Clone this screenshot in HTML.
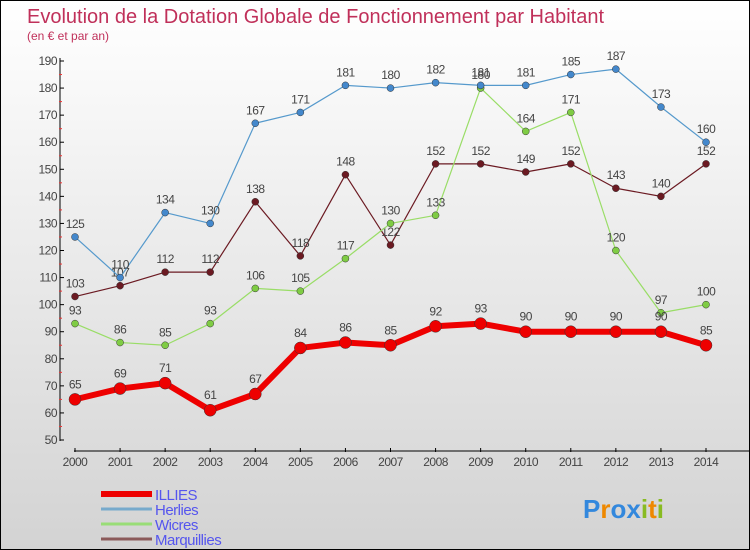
<!DOCTYPE html>
<html><head><meta charset="utf-8"><style>
body{margin:0}
#c{width:748px;height:548px;border:1px solid #000;background:linear-gradient(#fff,#d3d3d3);position:relative;font-family:"Liberation Sans",sans-serif;overflow:hidden}
</style></head><body>
<div id="c">
<svg id="s" width="748" height="548"></svg>
</div>
<script>
const years=[2000,2001,2002,2003,2004,2005,2006,2007,2008,2009,2010,2011,2012,2013,2014];
const illies=[65,69,71,61,67,84,86,85,92,93,90,90,90,90,85];
const herlies=[125,110,134,130,167,171,181,180,182,181,181,185,187,173,160];
const wicres=[93,86,85,93,106,105,117,130,133,180,164,171,120,97,100];
const marq=[103,107,112,112,138,118,148,122,152,152,149,152,143,140,152];
const yTicks=[50,60,70,80,90,100,110,120,130,140,150,160,170,180,190];
const NS="http://www.w3.org/2000/svg";
const s=document.getElementById('s');
const X=i=>74+i*(705-74)/14;
const Y=v=>439-(v-50)*(439-60)/140;
function el(t,a,p){const e=document.createElementNS(NS,t);for(const k in a)e.setAttribute(k,a[k]);(p||s).appendChild(e);return e;}
function txt(x,y,str,a){const e=el('text',Object.assign({x:x,y:y},a));e.textContent=str;return e;}
let t=txt(26,22,'Evolution de la Dotation Globale de Fonctionnement par Habitant',{'font-size':20,fill:'#c0305a'});

t=txt(26,39,'(en € et par an)',{'font-size':12,fill:'#c0305a'});

let ax=el('line',{x1:59,y1:57,x2:59,y2:440,stroke:'#000'});

yTicks.forEach(v=>{el('line',{x1:59,x2:63,y1:Y(v),y2:Y(v),stroke:'#000'});
 if(v<190)el('line',{x1:58,x2:61,y1:Y(v+5),y2:Y(v+5),stroke:'#e33'});
 const l=txt(56,Y(v)+4,v,{'font-size':12,fill:'#444','text-anchor':'end','letter-spacing':'-0.5'});
 });
ax=el('line',{x1:73,y1:450,x2:748,y2:450,stroke:'#000'});

years.forEach((y,i)=>{el('line',{x1:X(i),x2:X(i),y1:447,y2:451,stroke:'#000'});
 const l=txt(X(i),465,y,{'font-size':12,fill:'#444','text-anchor':'middle','letter-spacing':'-0.5'});
 });
function series(d,col,dot,w,r,name,lblDy){
 const g=el('g',{});
 el('polyline',{points:d.map((v,i)=>X(i)+','+Y(v)).join(' '),fill:'none',stroke:col,'stroke-width':w,'stroke-linejoin':'round'},g);
 d.forEach((v,i)=>{const c=el('circle',{cx:X(i),cy:Y(v),r:r,fill:dot,stroke:'#333','stroke-width':0.5},g);
  
  const l=txt(X(i),Y(v)-lblDy,v,{'font-size':12,fill:'#444','text-anchor':'middle','letter-spacing':'-0.5'},g);});
}
series(marq,'#6b1a22','#6b1a22',1.2,3.5,'marquillies',9);
series(wicres,'#99dd66','#7fcc44',1.2,3.5,'wicres',9);
series(herlies,'#5599cc','#4488cc',1.2,3.5,'herlies',9);
series(illies,'#ee0000','#ee0000',6,6,'illies',11);
const leg=[['ILLIES','#ee0000',6],['Herlies','#77aacc',3],['Wicres','#99dd77',3],['Marquillies','#8b5a5a',3]];
leg.forEach((l,i)=>{const g=el('g',{});
 const y=493+i*15;el('line',{x1:100,x2:151,y1:y,y2:y,stroke:l[1],'stroke-width':l[2]},g);
 txt(154,y+6,l[0],{'font-size':15,fill:'#5555ee','letter-spacing':'-0.5'},g);});
const lg=txt(582,517,'',{'font-size':26,'font-weight':'bold'});
[['P','#3388dd'],['r','#ee8800'],['o','#3388dd'],['x','#3388dd'],['i','#88bb22'],['t','#ee8800'],['i','#88bb22']].forEach(c=>{const sp=document.createElementNS(NS,'tspan');sp.setAttribute('fill',c[1]);sp.textContent=c[0];lg.appendChild(sp);});
</script>
</body></html>
